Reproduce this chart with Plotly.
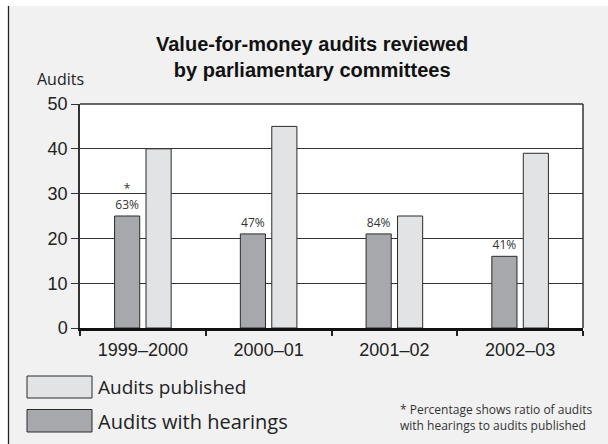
import plotly.graph_objects as go

# Audit counts per fiscal year
years = ["1999–2000", "2000–01", "2001–02", "2002–03"]
audits_published = [40, 45, 25, 39]
audits_with_hearings = [25, 21, 21, 16]
y_ticks = [0, 10, 20, 30, 40, 50]

title_text = "Value-for-money audits reviewed<br>by parliamentary committees"
y_title = "Audits"
legend_published = "Audits published"
legend_hearings = "Audits with hearings"
footnote = "* Percentage shows ratio of audits<br>with hearings to audits published"

W, H = 608, 444
L, R, T, B = 80, 25, 104, 116
PW, PH = W - L - R, H - T - B


def px(x):
    return (x - L) / PW


def py(y):
    return (H - B - y) / PH


# share of published audits that had a hearing, rounded half up
ratio_labels = [f"{int(h / p * 100 + 0.5)}%" for h, p in zip(audits_with_hearings, audits_published)]
ratio_labels[0] = "*<br>" + ratio_labels[0]

DARK = "#a7a8ab"
LIGHT = "#e2e3e5"
EDGE = "#2b2b2b"
SANS = "Liberation Sans, Arial, sans-serif"
HUMAN = "Open Sans, sans-serif"

fig = go.Figure()
fig.add_trace(go.Bar(
    x=years, y=audits_with_hearings, name=legend_hearings,
    width=0.2, offset=-0.225,
    marker=dict(color=DARK, line=dict(color=EDGE, width=1)),
    text=ratio_labels, textposition="outside",
    textfont=dict(family=HUMAN, size=12, color="#333333"),
    cliponaxis=False,
))
fig.add_trace(go.Bar(
    x=years, y=audits_published, name=legend_published,
    width=0.2, offset=0.025,
    marker=dict(color=LIGHT, line=dict(color=EDGE, width=1)),
))

shapes = [
    # white margin strips and the panel's left rule
    dict(type="rect", xref="paper", yref="paper", x0=px(-5), x1=px(9), y0=py(H + 5), y1=py(-5),
         fillcolor="white", line=dict(width=0), layer="below"),
    dict(type="rect", xref="paper", yref="paper", x0=px(-5), x1=px(W + 5), y0=py(6), y1=py(-5),
         fillcolor="white", line=dict(width=0), layer="below"),
    dict(type="line", xref="paper", yref="paper", x0=px(8.5), x1=px(8.5), y0=py(6), y1=py(H + 5),
         line=dict(color="#222222", width=1.3)),
    # legend swatches
    dict(type="rect", xref="paper", yref="paper", x0=px(27), x1=px(92), y0=py(376), y1=py(398),
         fillcolor=LIGHT, line=dict(color=EDGE, width=1)),
    dict(type="rect", xref="paper", yref="paper", x0=px(27), x1=px(92), y0=py(409.5), y1=py(432),
         fillcolor=DARK, line=dict(color=EDGE, width=1)),
    # top and right frame of the plot area
    dict(type="line", xref="paper", yref="paper", x0=0, x1=1, y0=1, y1=1,
         line=dict(color="#333333", width=1.5)),
    dict(type="line", xref="paper", yref="paper", x0=1, x1=1, y0=0, y1=1,
         line=dict(color="#333333", width=1.5)),
]

annotations = [
    dict(text=f"<b>{title_text}</b>", xref="paper", yref="paper", x=px(312), y=py(57.5),
         xanchor="center", yanchor="middle", showarrow=False,
         font=dict(family=SANS, size=20, color="#111111")),
    dict(text=y_title, xref="paper", yref="paper", x=px(35), y=py(79),
         xanchor="left", yanchor="middle", showarrow=False,
         font=dict(family=HUMAN, size=16, color="#222222")),
    dict(text=legend_published, xref="paper", yref="paper", x=px(96), y=py(387),
         xanchor="left", yanchor="middle", showarrow=False,
         font=dict(family=HUMAN, size=19, color="#222222")),
    dict(text=legend_hearings, xref="paper", yref="paper", x=px(96), y=py(421),
         xanchor="left", yanchor="middle", showarrow=False,
         font=dict(family=HUMAN, size=20, color="#222222")),
    dict(text=footnote, xref="paper", yref="paper", x=px(398), y=py(417.5),
         xanchor="left", yanchor="middle", align="left", showarrow=False,
         font=dict(family=HUMAN, size=12, color="#333333")),
]

fig.update_layout(
    width=W, height=H,
    margin=dict(l=L, r=R, t=T, b=B, pad=0),
    paper_bgcolor="#f1f1f1", plot_bgcolor="white",
    barmode="group", showlegend=False,
    shapes=shapes, annotations=annotations,
    xaxis=dict(
        type="category", tickson="boundaries", ticks="outside", ticklen=5,
        tickcolor="#222222", tickwidth=1.5,
        showline=True, linecolor="#111111", linewidth=2.5,
        showgrid=False, ticklabelstandoff=4,
        tickfont=dict(family=SANS, size=18, color="#222222"),
    ),
    yaxis=dict(
        range=[0, 50], tickvals=y_ticks, ticks="outside", ticklen=7,
        tickcolor="#333333", tickwidth=1,
        showline=True, linecolor="#333333", linewidth=1.5,
        showgrid=True, gridcolor="#333333", gridwidth=1,
        zeroline=False,
        tickfont=dict(family=SANS, size=18, color="#222222"),
    ),
)

fig.write_html("out.html")
